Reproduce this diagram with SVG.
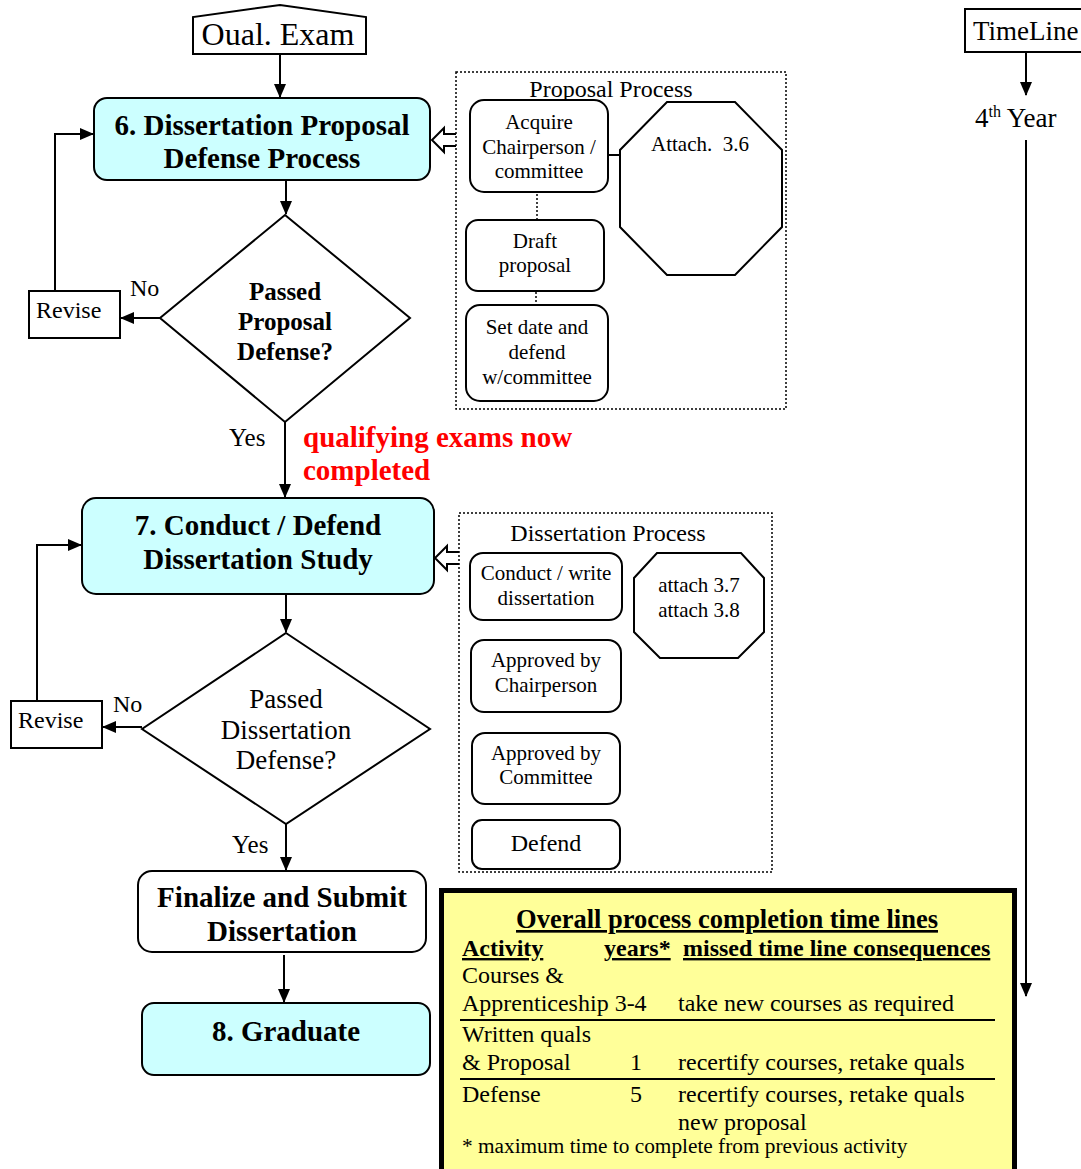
<svg xmlns="http://www.w3.org/2000/svg" width="1081" height="1169" viewBox="0 0 1081 1169" font-family="'Liberation Serif', 'Times New Roman', Tinos, 'DejaVu Serif', serif">
<defs>
<marker id="ah" markerWidth="14" markerHeight="12" refX="13" refY="6" orient="auto" markerUnits="userSpaceOnUse" viewBox="0 0 14 12"><path d="M0,0 L14,6 L0,12 Z" fill="#000"/></marker>
<style>
.b{font-weight:bold}
.box{fill:#fff;stroke:#000;stroke-width:2}
.cyan{fill:#ccffff;stroke:#000;stroke-width:2}
.ln{fill:none;stroke:#000;stroke-width:2}
.dot{fill:none;stroke:#000;stroke-width:1.5;stroke-dasharray:2,2}
.hol{fill:#fff;stroke:#000;stroke-width:2}
.c{text-anchor:middle}
.s21{font-size:21px}
.s24{font-size:24px}
.s29{font-size:29px}
.red{fill:#ff0000}
</style>
</defs>
<rect width="1081" height="1169" fill="#fff"/>

<g id="connectors">
<line class="ln" x1="280" y1="54" x2="280" y2="97" marker-end="url(#ah)"/>
<line class="ln" x1="286" y1="180" x2="286" y2="214" marker-end="url(#ah)"/>
<line class="ln" x1="160" y1="318" x2="121" y2="318" marker-end="url(#ah)"/>
<polyline class="ln" points="55,290 55,134 93,134" marker-end="url(#ah)"/>
<line class="ln" x1="285" y1="422" x2="285" y2="497" marker-end="url(#ah)"/>
<line class="ln" x1="286" y1="594" x2="286" y2="632" marker-end="url(#ah)"/>
<line class="ln" x1="142" y1="727" x2="103" y2="727" marker-end="url(#ah)"/>
<polyline class="ln" points="37,701 37,545 81,545" marker-end="url(#ah)"/>
<line class="ln" x1="286" y1="824" x2="286" y2="870" marker-end="url(#ah)"/>
<line class="ln" x1="284" y1="955" x2="284" y2="1002" marker-end="url(#ah)"/>
<line class="ln" x1="1026" y1="52" x2="1026" y2="95" marker-end="url(#ah)"/>
<line class="ln" x1="1026" y1="140" x2="1026" y2="996" marker-end="url(#ah)"/>
<path class="hol" d="M456,134 L444,134 L444,128 L432,140 L444,152 L444,146 L456,146"/>
<path class="hol" d="M459,552 L447,552 L447,546 L435,558 L447,570 L447,564 L459,564"/>
<line class="ln" x1="608" y1="155" x2="620" y2="155"/>
<line class="dot" x1="537" y1="194" x2="537" y2="220"/>
<line class="dot" x1="536" y1="292" x2="536" y2="320"/>
</g>

<g id="qual-exam">
<path class="box" d="M193,54 L193,17 L280,5 L366,17 L366,54 Z"/>
<text class="c" x="278" y="45" font-size="32">Oual. Exam</text>
</g>

<g id="step6">
<rect class="cyan" x="94" y="98" width="336" height="82" rx="13"/>
<text class="c b s29" x="262" y="135">6. Dissertation Proposal</text>
<text class="c b s29" x="262" y="168">Defense Process</text>
</g>

<g id="decision1">
<polygon class="box" points="285,215 410,318 285,422 160,318"/>
<text class="c b" font-size="25" x="285" y="300">Passed</text>
<text class="c b" font-size="25" x="285" y="330">Proposal</text>
<text class="c b" font-size="25" x="285" y="360">Defense?</text>
</g>

<g id="revise1">
<rect class="box" x="29" y="291" width="91" height="47"/>
<text class="s24" x="36" y="318">Revise</text>
</g>
<text class="s24" x="130" y="296">No</text>
<text font-size="25" x="229" y="446">Yes</text>
<text class="b s29 red" x="303" y="447">qualifying exams now</text>
<text class="b s29 red" x="303" y="480">completed</text>

<g id="proposal-process">
<rect class="dot" x="456" y="72" width="330" height="337"/>
<text class="c s24" x="611" y="97">Proposal Process</text>
</g>
<g id="acquire">
<rect class="box" x="470" y="100" width="138" height="92" rx="14"/>
<text class="c s21" x="539" y="129">Acquire</text>
<text class="c s21" x="539" y="154">Chairperson /</text>
<text class="c s21" x="539" y="178">committee</text>
</g>
<g id="attach36">
<polygon class="box" points="667,102 735,102 782,150 782,227 735,275 667,275 620,227 620,150"/>
<text class="c s21" x="700" y="151" xml:space="preserve">Attach.  3.6</text>
</g>
<g id="draft">
<rect class="box" x="466" y="220" width="138" height="71" rx="12"/>
<text class="c s21" x="535" y="248">Draft</text>
<text class="c s21" x="535" y="272">proposal</text>
</g>
<g id="setdate">
<rect class="box" x="466" y="305" width="142" height="96" rx="14"/>
<text class="c s21" x="537" y="334">Set date and</text>
<text class="c s21" x="537" y="359">defend</text>
<text class="c s21" x="537" y="384">w/committee</text>
</g>

<g id="step7">
<rect class="cyan" x="82" y="498" width="352" height="96" rx="14"/>
<text class="c b s29" x="258" y="535">7. Conduct / Defend</text>
<text class="c b s29" x="258" y="569">Dissertation Study</text>
</g>

<g id="decision2">
<polygon class="box" points="286,633 430,729 286,824 142,729"/>
<text class="c" font-size="27" x="286" y="708">Passed</text>
<text class="c" font-size="27" x="286" y="739">Dissertation</text>
<text class="c" font-size="27" x="286" y="769">Defense?</text>
</g>
<g id="revise2">
<rect class="box" x="11" y="701" width="91" height="47"/>
<text class="s24" x="18" y="728">Revise</text>
</g>
<text class="s24" x="113" y="712">No</text>
<text font-size="25" x="232" y="853">Yes</text>

<g id="dissertation-process">
<rect class="dot" x="459" y="513" width="313" height="359"/>
<text class="c s24" x="608" y="541">Dissertation Process</text>
</g>
<g id="conduct">
<rect class="box" x="470" y="553" width="152" height="67" rx="13"/>
<text class="c s21" x="546" y="580">Conduct / write</text>
<text class="c s21" x="546" y="605">dissertation</text>
</g>
<g id="attach378">
<polygon class="box" points="657,553 741,553 764,578 764,632 738,658 660,658 634,632 634,578"/>
<text class="c s21" x="699" y="592">attach 3.7</text>
<text class="c s21" x="699" y="617">attach 3.8</text>
</g>
<g id="approved-chair">
<rect class="box" x="471" y="640" width="150" height="72" rx="13"/>
<text class="c s21" x="546" y="667">Approved by</text>
<text class="c s21" x="546" y="692">Chairperson</text>
</g>
<g id="approved-committee">
<rect class="box" x="472" y="733" width="148" height="71" rx="13"/>
<text class="c s21" x="546" y="760">Approved by</text>
<text class="c s21" x="546" y="784">Committee</text>
</g>
<g id="defend">
<rect class="box" x="472" y="820" width="148" height="49" rx="10"/>
<text class="c s24" x="546" y="851">Defend</text>
</g>

<g id="finalize">
<rect class="box" x="138" y="871" width="288" height="81" rx="14"/>
<text class="c b s29" x="282" y="907">Finalize and Submit</text>
<text class="c b s29" x="282" y="941">Dissertation</text>
</g>
<g id="graduate">
<rect class="cyan" x="142" y="1003" width="288" height="72" rx="12"/>
<text class="c b s29" x="286" y="1041">8. Graduate</text>
</g>

<g id="timeline">
<rect class="box" x="965" y="9" width="118" height="43"/>
<text font-size="27" x="973" y="40">TimeLine</text>
</g>
<g id="year4">
<text font-size="27" x="975" y="127">4<tspan font-size="16" dy="-10">th</tspan><tspan dy="10"> Year</tspan></text>
</g>

<g id="timeline-table">
<rect x="441.5" y="890.5" width="573" height="285" fill="#ffff99" stroke="#000" stroke-width="5"/>
<text class="c b" font-size="26.5" x="727" y="928" text-decoration="underline">Overall process completion time lines</text>
<text class="b s24" x="462" y="956" text-decoration="underline">Activity</text>
<text class="b s24" x="604" y="956" text-decoration="underline">years*</text>
<text class="b s24" x="683" y="956" text-decoration="underline">missed time line consequences</text>
<text class="s24" x="462" y="983">Courses &amp;</text>
<text class="s24" x="462" y="1011">Apprenticeship 3-4</text>
<text class="s24" x="678" y="1011">take new courses as required</text>
<line x1="460" y1="1020" x2="995" y2="1020" stroke="#000" stroke-width="2"/>
<text class="s24" x="462" y="1042">Written quals</text>
<text class="s24" x="462" y="1070">&amp; Proposal</text>
<text class="s24" x="630" y="1070">1</text>
<text class="s24" x="678" y="1070">recertify courses, retake quals</text>
<line x1="460" y1="1079" x2="995" y2="1079" stroke="#000" stroke-width="2"/>
<text class="s24" x="462" y="1102">Defense</text>
<text class="s24" x="630" y="1102">5</text>
<text class="s24" x="678" y="1102">recertify courses, retake quals</text>
<text class="s24" x="678" y="1130">new proposal</text>
<text font-size="21.3" x="462" y="1153">* maximum time to complete from previous activity</text>
</g>
</svg>
